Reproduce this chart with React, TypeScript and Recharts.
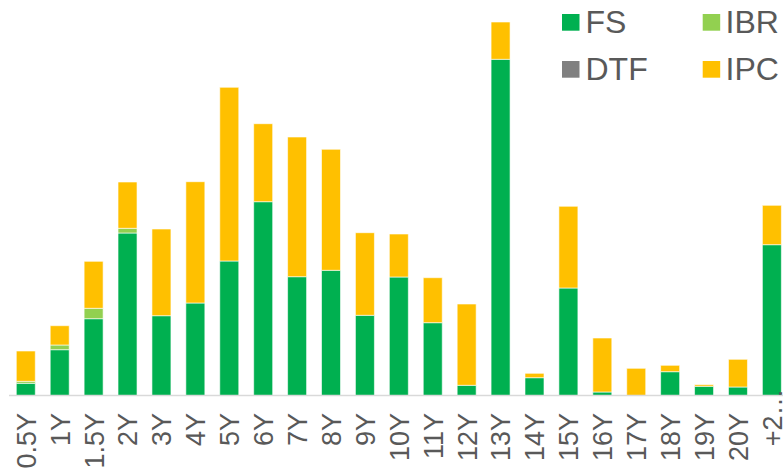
import React from 'react';
import { BarChart, Bar, XAxis, YAxis, Legend } from 'recharts';

const categories = ['0.5Y', '1Y', '1.5Y', '2Y', '3Y', '4Y', '5Y', '6Y', '7Y', '8Y', '9Y', '10Y', '11Y', '12Y', '13Y', '14Y', '15Y', '16Y', '17Y', '18Y', '19Y', '20Y', '+2…'];
const fsValues = [12.2, 45.8, 76.8, 162.5, 79.8, 92.5, 134.5, 193.8, 118.8, 125.2, 80.2, 118.5, 72.8, 10.2, 336.2, 17.8, 107.5, 3.5, 0, 23.8, 9.2, 8.5, 150.8];
const ibrValues = [2, 4.7, 10.4, 4.7, 0, 0, 0, 0, 0, 0, 0, 0, 0, 0, 0, 0, 0, 0, 0, 0, 0, 0, 0];
const dtfValues = [0, 0, 0, 0, 0, 0, 0, 0, 0, 0, 0, 0, 0, 0, 0, 0, 0, 0, 0, 0, 0, 0, 0];
const ipcValues = [30.3, 19.3, 47, 46.3, 86.7, 121.3, 173.7, 78, 139.7, 121, 82.6, 43, 45, 81.3, 37.3, 4.4, 81.7, 54, 27.2, 6.4, 1.6, 27.7, 39.4];

const seriesNames = ['FS', 'IBR', 'DTF', 'IPC'];
const seriesColors = ['#00B050', '#92D050', '#808080', '#FFC000'];

const data = categories.map((c, i) => ({
  cat: c,
  FS: fsValues[i],
  IBR: ibrValues[i],
  DTF: dtfValues[i],
  IPC: ipcValues[i],
}));

const FONT = "'Liberation Sans', Arial, Helvetica, sans-serif";

const Tick = (props: any) => {
  const { x, y, payload } = props;
  const isLast = payload.index === categories.length - 1;
  const off = isLast ? -7 : 17.5;
  return (
    <text
      transform={`translate(${x},${y + off}) rotate(-90)`}
      textAnchor="end"
      dy="0.36em"
      fill="#595959"
      fontSize={27}
      fontFamily={FONT}
    >
      {payload.value}
    </text>
  );
};

const LegendContent = () => {
  const items = [
    { name: seriesNames[0], color: seriesColors[0], rx: 22, tx: 45.5, ry: 6, ty: 24.7 },
    { name: seriesNames[1], color: seriesColors[1], rx: 162.7, tx: 185.5, ry: 6, ty: 24.7 },
    { name: seriesNames[2], color: seriesColors[2], rx: 22, tx: 45.5, ry: 53, ty: 71.7 },
    { name: seriesNames[3], color: seriesColors[3], rx: 162.7, tx: 185.5, ry: 53, ty: 71.7 },
  ];
  return (
    <svg width={243} height={90} style={{ display: 'block', overflow: 'visible' }}>
      {items.map((it) => (
        <g key={it.name}>
          <rect x={it.rx} y={it.ry} width={17.5} height={16.7} fill={it.color} />
          <text x={it.tx} y={it.ty} fontSize={32} fill="#595959" fontFamily={FONT}>
            {it.name}
          </text>
        </g>
      ))}
    </svg>
  );
};

export default function App() {
  return (
    <div style={{ position: 'fixed', left: 0, top: 0, width: 783, height: 473, overflow: 'hidden', background: '#ffffff' }}>
      <div style={{ position: 'absolute', left: 8, top: 8 }}>
        <BarChart
          width={781}
          height={465}
          data={data}
          margin={{ top: 7.5, right: 0, bottom: 0, left: 1 }}
          barCategoryGap="21.5%"
        >
          <XAxis
            dataKey="cat"
            interval={0}
            height={77.5}
            tickSize={0}
            tickMargin={0}
            tickLine={false}
            axisLine={{ stroke: '#D9D9D9', strokeWidth: 1.5 }}
            tick={<Tick />}
          />
          <YAxis hide domain={[0, 380]} />
          <Legend
            layout="horizontal"
            verticalAlign="middle"
            align="center"
            content={<LegendContent />}
            wrapperStyle={{ left: 532, top: 0, width: 243, height: 90 }}
          />
          {seriesNames.map((name, i) => (
            <Bar
              key={name}
              dataKey={name}
              stackId="a"
              fill={seriesColors[i]}
              stroke="#ffffff"
              strokeWidth={0.6}
              isAnimationActive={false}
            />
          ))}
        </BarChart>
      </div>
    </div>
  );
}
